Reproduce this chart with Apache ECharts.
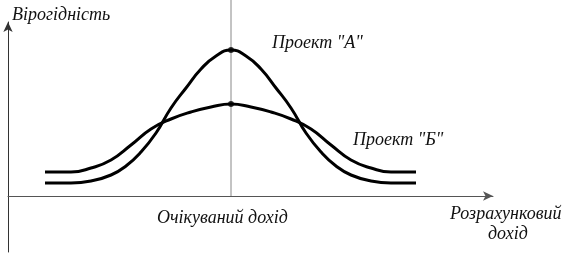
<!DOCTYPE html>
<html>
<head>
<meta charset="utf-8">
<script src="https://cdn.jsdelivr.net/npm/echarts@6/dist/echarts.min.js"></script>
<style>html,body{margin:0;padding:0;background:#fff}#c{width:574px;height:256px}</style>
</head>
<body>
<div id="c"></div>
<script>
// Curve "A" (narrow, tall) : [income, probability]
var projectA = [[37,13],[63,13],[83,15],[103,21],[118,30],[133,44],[148,63],[163,88],[178,108],[193,127],[208,140],[223,146],
  [238,140],[253,127],[268,108],[283,88],[298,63],[313,44],[328,30],[343,21],[363,15],[383,13],[408,13]];
// Curve "Б" (wide, low)
var projectB = [[37,24],[63,24],[83,28],[103,36],[123,51],[143,67],[163,77],[183,84],[203,89],[223,92],
  [243,89],[263,84],[283,77],[303,67],[323,51],[343,36],[363,28],[383,24],[408,24]];
var expectedIncome = 223;
var peaks = [[223,146],[223,92]];
var centerLine = [[expectedIncome,0],[expectedIncome,196]];
var labels = {y:'Вірогідність', a:'Проект "А"', b:'Проект "Б"', exp:'Очікуваний дохід', x1:'Розрахунковий', x2:'дохід'};

var chart = echarts.init(document.getElementById('c'), null, {renderer:'canvas'});
var font = 'italic 18px "Liberation Serif", "DejaVu Serif", serif';
function txt(t, x, y){ return {type:'text', x:x, y:y, style:{text:t, font:font, fill:'#111', align:'left', verticalAlign:'middle'}}; }
chart.setOption({
  animation:false,
  grid:{left:8, right:81, top:22, bottom:4},
  xAxis:{type:'value', min:0, max:485,
    axisLine:{onZero:true, lineStyle:{color:'#555', width:1}, symbol:['none','arrow'], symbolSize:[7,10]},
    axisTick:{show:false}, axisLabel:{show:false}, splitLine:{show:false}},
  yAxis:{type:'value', min:-56, max:174,
    axisLine:{show:true, lineStyle:{color:'#333', width:1}, symbol:['none','arrow'], symbolSize:[7,10]},
    axisTick:{show:false}, axisLabel:{show:false}, splitLine:{show:false}},
  series:[
    {type:'line', data:centerLine, clip:false, showSymbol:false, lineStyle:{color:'#888', width:1}, z:1},
    {type:'line', data:projectA, smooth:0.5, showSymbol:false, lineStyle:{color:'#000', width:3}, z:2},
    {type:'line', data:projectB, smooth:0.5, showSymbol:false, lineStyle:{color:'#000', width:3}, z:2},
    {type:'scatter', data:peaks, symbolSize:6, itemStyle:{color:'#000'}, z:3}
  ],
  graphic:[
    txt(labels.y, 12, 15),
    txt(labels.a, 272, 43),
    txt(labels.b, 353, 140),
    txt(labels.exp, 157, 218),
    txt(labels.x1, 450, 214),
    txt(labels.x2, 488, 234)
  ]
});
</script>
</body>
</html>
